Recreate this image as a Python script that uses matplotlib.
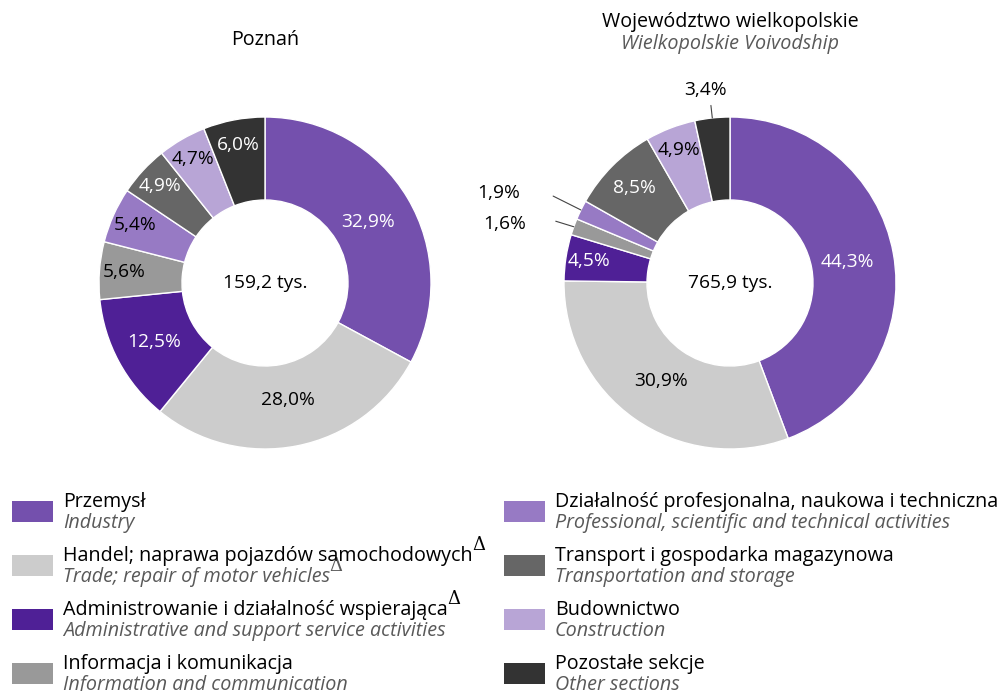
import numpy as np
import matplotlib
matplotlib.use("Agg")
import matplotlib.pyplot as plt
from matplotlib.patches import Rectangle

plt.rcParams['font.family'] = ['Open Sans', 'DejaVu Sans']

categories_pl = ["Przemysł",
                 "Handel; naprawa pojazdów samochodowych",
                 "Administrowanie i działalność wspierająca",
                 "Informacja i komunikacja",
                 "Działalność profesjonalna, naukowa i techniczna",
                 "Transport i gospodarka magazynowa",
                 "Budownictwo",
                 "Pozostałe sekcje"]
categories_en = ["Industry",
                 "Trade; repair of motor vehicles",
                 "Administrative and support service activities",
                 "Information and communication",
                 "Professional, scientific and technical activities",
                 "Transportation and storage",
                 "Construction",
                 "Other sections"]
delta_pl = [False, True, True, False, False, False, False, False]
delta_en = [False, True, False, False, False, False, False, False]
colors = ["#7450ad", "#cccccc", "#4f2096", "#999999",
          "#977ac4", "#666666", "#b8a5d6", "#333333"]
text_colors = ["white", "black", "white", "black",
               "black", "white", "black", "white"]

poznan = [32.9, 28.0, 12.5, 5.6, 5.4, 4.9, 4.7, 6.0]
wlkp = [44.3, 30.9, 4.5, 1.6, 1.9, 8.5, 4.9, 3.4]
totals = ["159,2 tys.", "765,9 tys."]

W, H = 1003, 691
fig = plt.figure(figsize=(W / 100, H / 100), dpi=100)

R = 166  # outer radius px
LBL = 13.8
TXT = 14.2


def make_ax(cx, cy):
    return fig.add_axes([(cx - R) / W, (H - cy - R) / H, 2 * R / W, 2 * R / H])


def fmt(v):
    return f"{v:.1f}".replace(".", ",") + "%"


def label_radius(v):
    # narrow slices get their label pushed outward
    return 0.72 + 0.14 * np.clip((15 - v) / 10, 0, 1)


def donut(ax, vals, total, outside):
    ax.pie(vals, colors=colors, startangle=90, counterclock=False,
           radius=1.0, wedgeprops=dict(width=0.5, edgecolor="white",
                                       linewidth=1.0))
    ax.set_xlim(-1, 1)
    ax.set_ylim(-1, 1)
    ax.set_aspect("equal")
    ax.axis("off")
    cum = np.cumsum([0] + vals[:-1])
    for i, v in enumerate(vals):
        mid = np.deg2rad(90 - (cum[i] + v / 2) * 3.6)
        if i in outside:
            continue
        r = label_radius(v)
        ax.text(r * np.cos(mid), r * np.sin(mid), fmt(v),
                ha="center", va="center", fontsize=LBL, color=text_colors[i])
    ax.text(0, 0, total, ha="center", va="center", fontsize=LBL, color="black")
    return cum


axL = make_ax(265, 283)
donut(axL, poznan, totals[0], outside=[])

axR = make_ax(730, 283)
cum = donut(axR, wlkp, totals[1], outside=[3, 4, 7])

# outside labels with leader lines
offsets = {3: (-13, 4, -34, 2), 4: (-20, 10, -44, 12), 7: (-1, 9, -5, 14)}
for i, (dx1, dy1, tx, ty) in offsets.items():
    v = wlkp[i]
    mid = np.deg2rad(90 - (cum[i] + v / 2) * 3.6)
    p = (np.cos(mid), np.sin(mid))
    axR.annotate("", xy=p, xytext=(dx1, dy1), textcoords="offset points",
                 arrowprops=dict(arrowstyle="-", color="#444444", lw=0.8,
                                 shrinkA=0, shrinkB=0))
    if i == 7:
        axR.annotate(fmt(v), xy=p, xytext=(tx, ty), textcoords="offset points",
                     ha="center", va="bottom", fontsize=LBL, color="black",
                     annotation_clip=False)
    else:
        axR.annotate(fmt(v), xy=p, xytext=(tx, ty), textcoords="offset points",
                     ha="right", va="center", fontsize=LBL, color="black",
                     annotation_clip=False)

# titles
fig.text(265 / W, 1 - 40 / H, "Poznań", ha="center", va="center", fontsize=TXT)
fig.text(730 / W, 1 - 22 / H, "Województwo wielkopolskie", ha="center",
         va="center", fontsize=TXT)
fig.text(730 / W, 1 - 44 / H, "Wielkopolskie Voivodship", ha="center",
         va="center", fontsize=TXT, style="italic", color="#595959")

# legend
col_x = [12, 504]
row_y = [511, 565, 619, 673]
dummy = fig.add_axes([0, 0, 1, 1])
dummy.axis("off")
dummy.set_zorder(-1)
for k in range(8):
    col, row = divmod(k, 4)
    x0 = col_x[col]
    yc = row_y[row]
    fig.patches.append(Rectangle((x0 / W, 1 - (yc + 10.5) / H), 41 / W, 21 / H,
                                 transform=fig.transFigure, facecolor=colors[k],
                                 edgecolor="none"))
    t1 = fig.text((x0 + 51) / W, 1 - (yc - 9) / H, categories_pl[k], ha="left",
                  va="center", fontsize=TXT, color="black")
    t2 = fig.text((x0 + 51) / W, 1 - (yc + 12) / H, categories_en[k], ha="left",
                  va="center", fontsize=TXT, style="italic", color="#595959")
    if delta_pl[k]:
        dummy.annotate("Δ", xy=(1, 0.58), xycoords=t1, xytext=(-0.5, 0),
                       textcoords="offset points", ha="left", va="bottom",
                       fontsize=13, color="black", family="DejaVu Serif",
                       annotation_clip=False)
    if delta_en[k]:
        dummy.annotate("Δ", xy=(1, 0.58), xycoords=t2, xytext=(-0.5, 0),
                       textcoords="offset points", ha="left", va="bottom",
                       fontsize=13, color="#595959", family="DejaVu Serif",
                       annotation_clip=False)

fig.savefig("out.png", dpi=100)
